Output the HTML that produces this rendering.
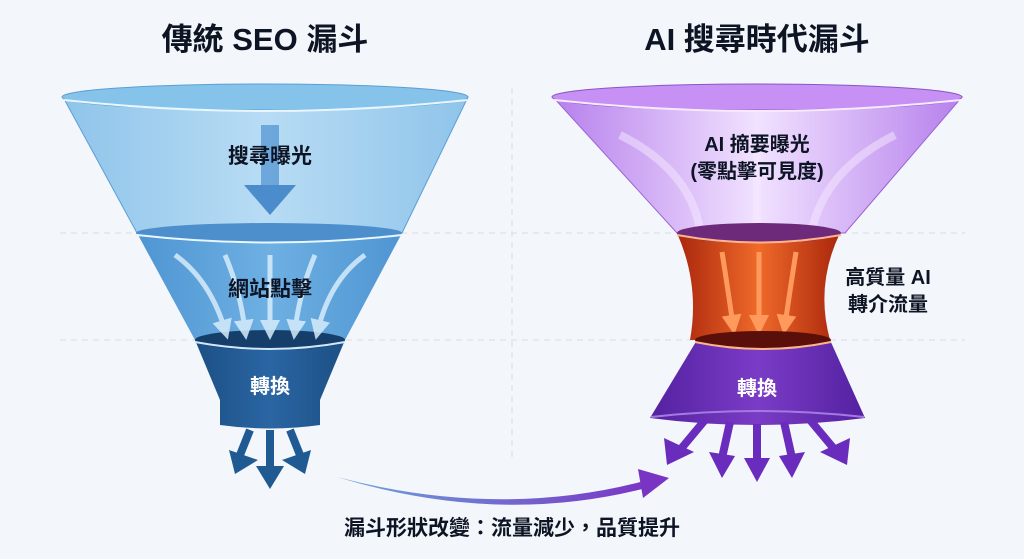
<!DOCTYPE html>
<html><head><meta charset="utf-8"><style>
html,body{margin:0;padding:0;background:#f3f6fa;}
svg{display:block}
text{font-family:"Liberation Sans","Noto Sans CJK TC",sans-serif;font-weight:bold;}
</style></head><body>
<svg width="1024" height="559" viewBox="0 0 1024 559" xmlns="http://www.w3.org/2000/svg">
<defs>
<linearGradient id="lcone" x1="0" x2="1"><stop offset="0" stop-color="#8fc4ea"/><stop offset="0.5" stop-color="#b8dcf4"/><stop offset="1" stop-color="#8fc4ea"/></linearGradient>
<linearGradient id="lmid" x1="0" x2="1"><stop offset="0" stop-color="#4f95d2"/><stop offset="0.5" stop-color="#6eb0e3"/><stop offset="1" stop-color="#4f95d2"/></linearGradient>
<linearGradient id="ldark" x1="0" x2="1"><stop offset="0" stop-color="#1c4f85"/><stop offset="0.5" stop-color="#2a66a3"/><stop offset="1" stop-color="#1c4f85"/></linearGradient>
<linearGradient id="rcone" x1="0" x2="1"><stop offset="0" stop-color="#b680ec"/><stop offset="0.5" stop-color="#f1e2ff"/><stop offset="1" stop-color="#b680ec"/></linearGradient>
<linearGradient id="rorange" x1="0" x2="1"><stop offset="0" stop-color="#a9260c"/><stop offset="0.5" stop-color="#f06a2a"/><stop offset="1" stop-color="#a9260c"/></linearGradient>
<linearGradient id="rpurp" x1="0" x2="1"><stop offset="0" stop-color="#5421a0"/><stop offset="0.5" stop-color="#7a3cc6"/><stop offset="1" stop-color="#5421a0"/></linearGradient>
<linearGradient id="curve" x1="0" x2="1"><stop offset="0" stop-color="#6aa6dc"/><stop offset="1" stop-color="#7a34c4"/></linearGradient>
<marker id="la" markerWidth="4" markerHeight="4" refX="2" refY="2" orient="auto"><path d="M0,0 L4,2 L0,4z" fill="#d6ecfb"/></marker>
<marker id="oa" markerWidth="4" markerHeight="4" refX="2" refY="2" orient="auto"><path d="M0,0 L4,2 L0,4z" fill="#ff9a5c"/></marker>
</defs>
<g stroke="#d9dee5" stroke-width="1" stroke-dasharray="6,5">
<line x1="60" y1="233" x2="965" y2="233"/><line x1="60" y1="340" x2="965" y2="340"/>
<line x1="512" y1="88" x2="512" y2="460"/>
</g>
<text x="265" y="50" font-size="31" text-anchor="middle" fill="#0d1424">傳統 SEO 漏斗</text>
<text x="757" y="50" font-size="31" text-anchor="middle" fill="#0d1424">AI 搜尋時代漏斗</text>

<path d="M63,97 L137,233 L402,233 L468,97 Z" fill="url(#lcone)" stroke="#5b9fd4"/>
<ellipse cx="265" cy="97" rx="203" ry="13" fill="#86c3ea" stroke="#5b9fd4"/>
<path d="M64,100 Q265,122 467,100" fill="none" stroke="#e8f6ff" stroke-width="2"/>
<path d="M137,233 L195,340 L345,340 L402,233 Z" fill="url(#lmid)"/>
<ellipse cx="269" cy="233" rx="133" ry="10" fill="#4d8fcc"/>
<path d="M137,235 Q269,250 402,235" fill="none" stroke="#e8f6ff" stroke-width="2"/>
<path d="M195,340 L220,400 L220,425 Q270,432 320,425 L320,400 L345,340 Z" fill="url(#ldark)"/>
<ellipse cx="270" cy="340" rx="75" ry="10" fill="#163e6b"/>
<path d="M195,342 Q270,356 345,342" fill="none" stroke="#d0e8fa" stroke-width="2"/>
<rect x="261" y="125" width="18" height="60" fill="#5a9ad4" opacity="0.8"/>
<path d="M244,185 L296,185 L270,215 Z" fill="#4a8ccc"/>
<g stroke="#d6ecfb" stroke-width="5" fill="none" opacity="0.85" marker-end="url(#la)">
<path d="M175,255 Q210,280 225,330"/><path d="M225,255 Q240,290 245,330"/>
<path d="M270,255 L270,330"/><path d="M315,255 Q300,290 295,330"/><path d="M365,255 Q330,280 318,330"/>
</g>
<text x="270" y="163" font-size="21" text-anchor="middle" fill="#0d1424">搜尋曝光</text>
<text x="270" y="296" font-size="21" text-anchor="middle" fill="#0d1424">網站點擊</text>
<text x="270" y="393" font-size="20" text-anchor="middle" fill="#fff">轉換</text>
<g stroke="#1f5a93" stroke-width="8" fill="#1f5a93">
<line x1="250" y1="430" x2="240" y2="455"/><line x1="270" y1="430" x2="270" y2="470"/><line x1="290" y1="430" x2="300" y2="455"/>
</g>
<path d="M229,450 L258,460 L235,474 Z" fill="#1f5a93"/>
<path d="M256,466 L284,466 L270,489 Z" fill="#1f5a93"/>
<path d="M311,450 L282,460 L305,474 Z" fill="#1f5a93"/>

<path d="M553,97 L677,233 L845,233 L962,97 Z" fill="url(#rcone)" stroke="#9b63d8"/>
<ellipse cx="757" cy="97" rx="205" ry="13" fill="#c690f4" stroke="#8a55c8"/>
<path d="M554,100 Q757,122 961,100" fill="none" stroke="#f6eaff" stroke-width="2"/>
<g stroke="#f6eaff" stroke-width="8" fill="none" opacity="0.5">
<path d="M620,135 Q690,170 700,230"/><path d="M757,140 L757,230"/><path d="M895,135 Q825,170 812,230"/>
</g>
<path d="M677,233 Q700,285 690,340 L830,340 Q815,285 840,233 Z" fill="url(#rorange)"/>
<ellipse cx="759" cy="233" rx="82" ry="10" fill="#6d2a7a"/>
<path d="M677,235 Q759,250 841,235" fill="none" stroke="#ffb48a" stroke-width="2"/>
<g stroke="#ff9a5c" stroke-width="5" fill="none" marker-end="url(#oa)">
<path d="M722,252 Q728,290 733,325"/><path d="M759,252 L759,325"/><path d="M796,252 Q790,290 785,325"/>
</g>
<path d="M697,340 L650,418 Q757,432 865,418 L830,340 Z" fill="url(#rpurp)"/>
<ellipse cx="763" cy="340" rx="68" ry="9" fill="#5a0f0a"/>
<path d="M695,342 Q763,356 831,342" fill="none" stroke="#ffb48a" stroke-width="2"/>
<path d="M651,417 Q757,405 864,417" fill="none" stroke="#a57ae0" stroke-width="2"/>
<text x="757" y="151" font-size="20" text-anchor="middle" fill="#0d1424">AI 摘要曝光</text>
<text x="757" y="178" font-size="20" text-anchor="middle" fill="#0d1424">(零點擊可見度)</text>
<text x="888" y="284" font-size="20" text-anchor="middle" fill="#0d1424">高質量 AI</text>
<text x="888" y="311" font-size="20" text-anchor="middle" fill="#0d1424">轉介流量</text>
<text x="757" y="395" font-size="20" text-anchor="middle" fill="#fff">轉換</text>
<g stroke="#6a2cbc" stroke-width="8">
<line x1="705" y1="420" x2="680" y2="450"/><line x1="730" y1="422" x2="722" y2="458"/>
<line x1="757" y1="424" x2="757" y2="462"/><line x1="784" y1="422" x2="792" y2="458"/>
<line x1="810" y1="420" x2="835" y2="450"/>
</g>
<path d="M664,438 L694,452 L667,465 Z" fill="#6a2cbc"/>
<path d="M709,452 L735,456 L722,478 Z" fill="#6a2cbc"/>
<path d="M744,458 L770,458 L757,482 Z" fill="#6a2cbc"/>
<path d="M779,456 L805,452 L792,478 Z" fill="#6a2cbc"/>
<path d="M850,438 L820,452 L847,465 Z" fill="#6a2cbc"/>

<path d="M337,477 Q500,520 648,480 L650,487 Q500,527 337,477 Z" fill="url(#curve)"/>
<path d="M638,469 L669,478 L643,498 Z" fill="#7a34c4"/>
<text x="512" y="535" font-size="21" text-anchor="middle" fill="#0d1424">漏斗形狀改變：流量減少，品質提升</text>
</svg>
</body></html>
